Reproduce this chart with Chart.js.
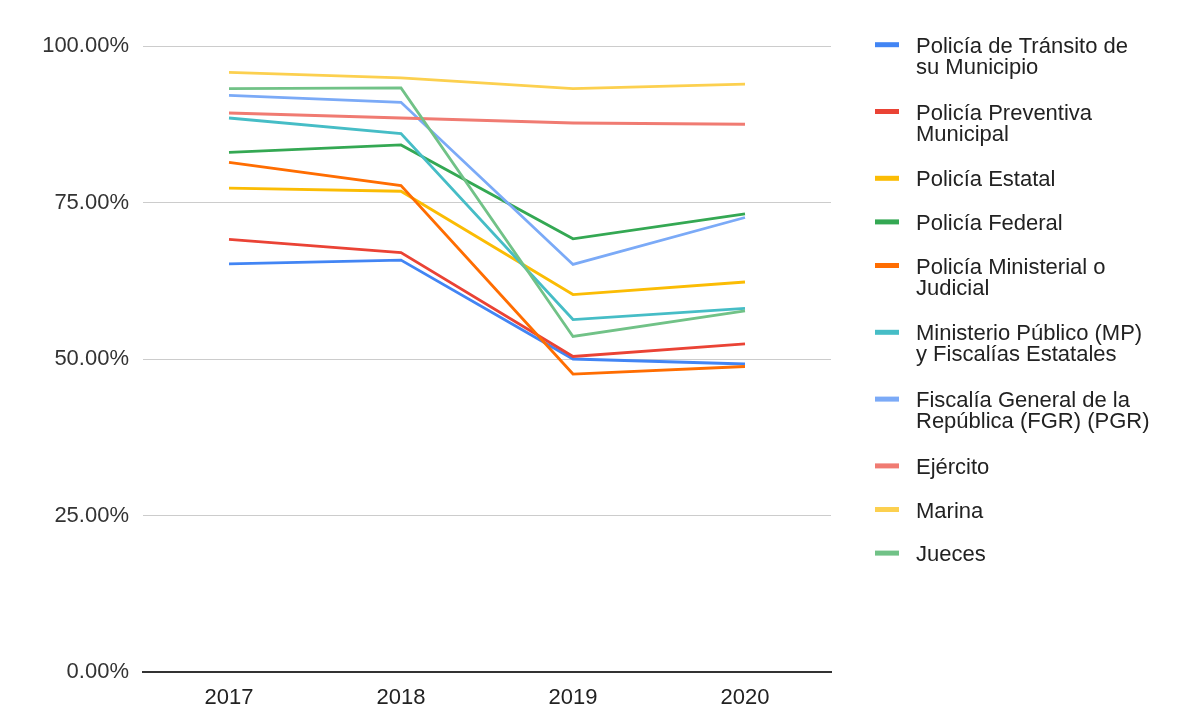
<!DOCTYPE html>
<html lang="es">
<head>
<meta charset="utf-8">
<title>Percepción de desempeño de autoridades 2017–2020</title>
<script src="https://cdn.jsdelivr.net/npm/chart.js@4.4.1/dist/chart.umd.min.js"></script>
<style>
  html, body { margin: 0; padding: 0; background: #ffffff; }
  #wrap { position: relative; width: 1178px; height: 719px; }
  canvas { display: block; }
</style>
</head>
<body>
<div id="wrap"><canvas id="chart" width="1178" height="719"></canvas></div>
<script>
// Years on the horizontal axis
const years = ['2017', '2018', '2019', '2020'];

// Percentages per authority, one value per year
const transito    = [65.2, 65.8, 50.0, 49.2];
const preventiva  = [69.1, 67.0, 50.4, 52.4];
const estatal     = [77.3, 76.8, 60.3, 62.3];
const federal     = [83.0, 84.2, 69.2, 73.2];
const ministerial = [81.4, 77.7, 47.6, 48.8];
const ministerio  = [88.5, 86.0, 56.3, 58.1];
const fiscalia    = [92.1, 91.0, 65.1, 72.6];
const ejercito    = [89.3, 88.5, 87.7, 87.5];
const marina      = [95.8, 94.9, 93.2, 93.9];
const jueces      = [93.2, 93.3, 53.6, 57.7];

// Vertical axis tick values (percent)
const yTickValues = [0, 25, 50, 75, 100];

// Series names, split into the lines shown in the legend
const seriesNames = [
  ['Policía de Tránsito de', 'su Municipio'],
  ['Policía Preventiva', 'Municipal'],
  ['Policía Estatal'],
  ['Policía Federal'],
  ['Policía Ministerial o', 'Judicial'],
  ['Ministerio Público (MP)', 'y Fiscalías Estatales'],
  ['Fiscalía General de la', 'República (FGR) (PGR)'],
  ['Ejército'],
  ['Marina'],
  ['Jueces']
];
const seriesValues = [transito, preventiva, estatal, federal, ministerial,
                      ministerio, fiscalia, ejercito, marina, jueces];
const seriesColors = ['#4285F4', '#EA4335', '#FBBC04', '#34A853', '#FF6D01',
                      '#46BDC6', '#7BAAF7', '#F07B72', '#FCD04F', '#71C287'];

const FONT = '"Liberation Sans", Arial, Helvetica, sans-serif';

// Legend drawn on the right, with wrapped multi-line labels
const sideLegend = {
  id: 'sideLegend',
  afterDraw(chart) {
    const ctx = chart.ctx;
    const swatchX = chart.chartArea.right + 44;
    const textX = swatchX + 41;
    let baseline = 52.7;
    ctx.save();
    ctx.font = '22px ' + FONT;
    ctx.textAlign = 'left';
    ctx.textBaseline = 'alphabetic';
    chart.data.datasets.forEach((ds, i) => {
      const lines = seriesNames[i];
      ctx.fillStyle = ds.borderColor;
      ctx.fillRect(swatchX, baseline - 10.5, 24, 5);
      ctx.fillStyle = '#222222';
      lines.forEach((ln, k) => ctx.fillText(ln, textX, baseline + k * 21));
      baseline += lines.length === 2 ? 66.8 : 43.6;
    });
    ctx.restore();
  }
};

const datasets = seriesValues.map((vals, i) => ({
  label: seriesNames[i].join(' '),
  data: vals,
  borderColor: seriesColors[i],
  backgroundColor: seriesColors[i],
  borderWidth: 2.8,
  pointRadius: 0,
  pointHoverRadius: 0,
  tension: 0,
  fill: false,
  order: seriesValues.length - i
}));

new Chart(document.getElementById('chart'), {
  type: 'line',
  data: { labels: years, datasets },
  options: {
    responsive: false,
    animation: false,
    layout: { padding: { left: 0, right: 347, top: 46, bottom: 0 } },
    plugins: {
      legend: { display: false },
      tooltip: { enabled: false },
      title: { display: false }
    },
    scales: {
      x: {
        offset: true,
        grid: { display: false, drawTicks: false },
        border: { display: true, color: '#333333', width: 2 },
        ticks: {
          color: '#222222',
          font: { family: FONT, size: 22 },
          padding: 13,
          maxRotation: 0
        },
        afterFit(scale) { scale.height = 47; }
      },
      y: {
        min: 0,
        max: 100,
        afterBuildTicks(scale) {
          scale.ticks = yTickValues.map(v => ({ value: v }));
        },
        grid: {
          drawTicks: false,
          color: c => (c.tick && c.tick.value === 0) ? 'rgba(0,0,0,0)' : '#cccccc',
          lineWidth: 1
        },
        border: { display: false },
        ticks: {
          color: '#333333',
          font: { family: FONT, size: 22 },
          padding: 14,
          callback: v => Number(v).toFixed(2) + '%'
        },
        afterFit(scale) { scale.width = 143; }
      }
    }
  },
  plugins: [sideLegend]
});
</script>
</body>
</html>
